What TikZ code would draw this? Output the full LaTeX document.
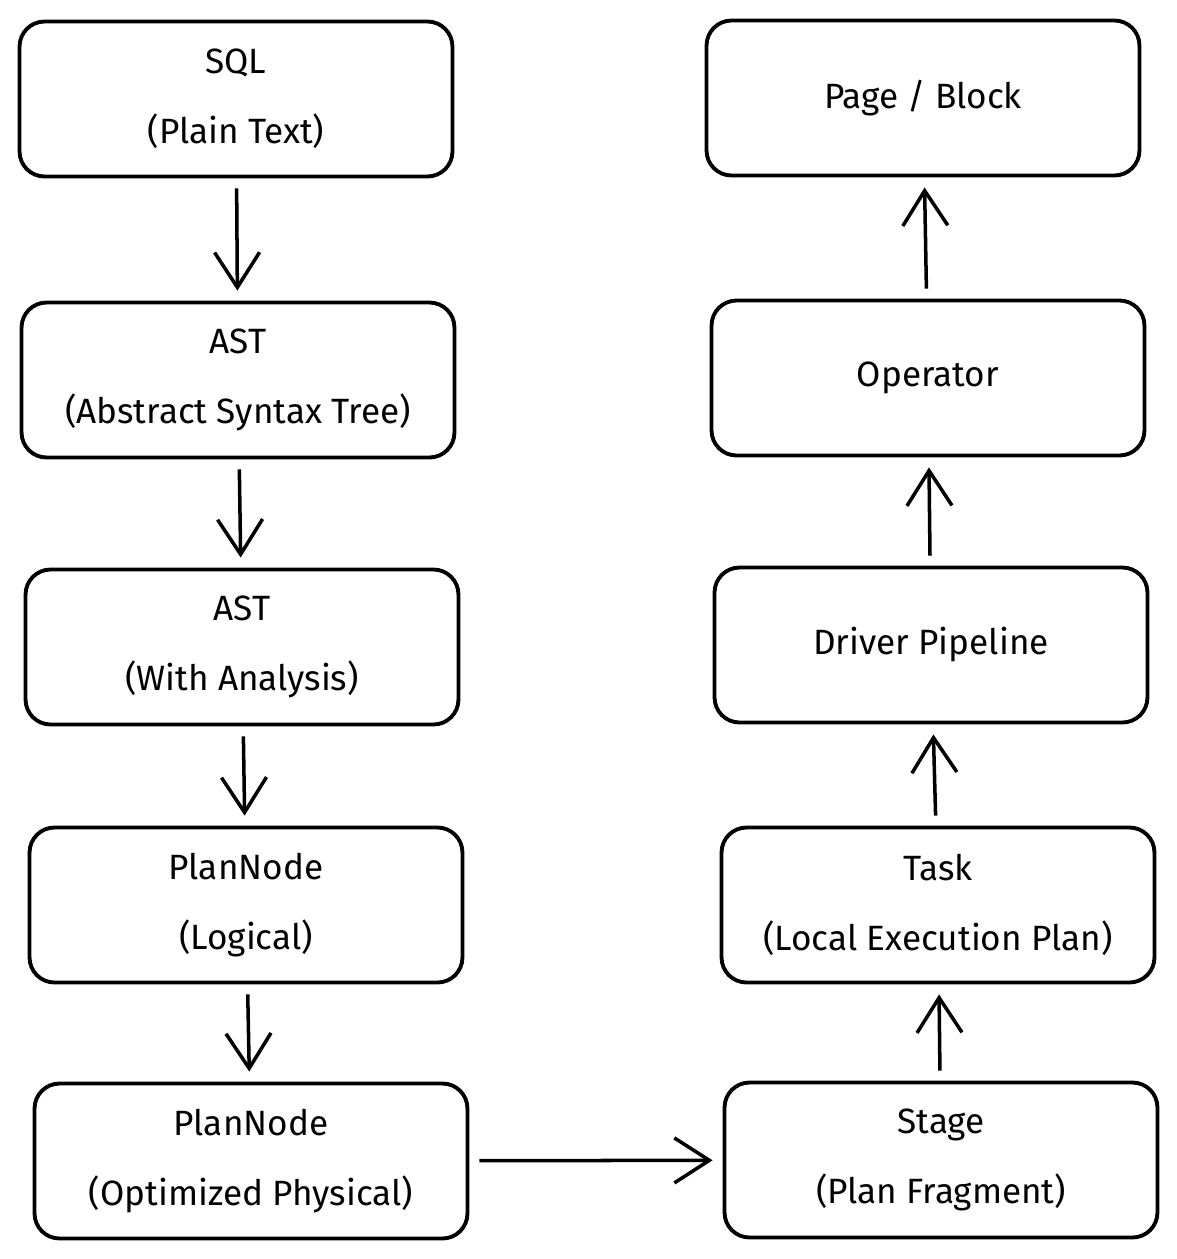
\documentclass[tikz,border=0pt]{standalone}
\usepackage{fontspec}
\setmainfont{Fira Sans}
\usetikzlibrary{arrows.meta, positioning}

\begin{document}
\begin{tikzpicture}[x=0.02cm, y=-0.02cm, stage/.style={rectangle, rounded corners=0.5cm, draw, line width=2.2pt, minimum width=8.66cm, minimum height=3.1cm, align=center, font=\fontsize{20}{40}\selectfont}, flow/.style={-{Straight Barb[length=0.7cm, width=0.9cm]}, line width=2pt, shorten <=0.2cm, shorten >=0.2cm}]

            \useasboundingbox (0,0) rectangle (1177,1259);
            \node[stage] (sql) at (236,99) {SQL\\(Plain Text)};
            \node[stage] (ast) at (238,380) {AST\\(Abstract Syntax Tree)};
            \node[stage] (ast2) at (242,647) {AST\\(With Analysis)};
            \node[stage] (plan) at (246,905) {PlanNode\\(Logical)};
            \node[stage] (plan2) at (251,1161) {PlanNode\\(Optimized Physical)};
            \node[stage] (st) at (941,1160) {Stage\\(Plan Fragment)};
            \node[stage] (task) at (938,905) {Task\\(Local Execution Plan)};
            \node[stage] (drv) at (931,645) {Driver Pipeline};
            \node[stage] (op) at (928,378) {Operator};
            \node[stage] (page) at (923,98) {Page / Block};

            \path[flow]
            (sql) edge (ast)
            (ast) edge (ast2)
            (ast2) edge (plan)
            (plan) edge (plan2)
            (plan2) edge (st)
            (st) edge (task)
            (task) edge (drv)
            (drv) edge (op)
            (op) edge (page)
            ;

        \end{tikzpicture}
\end{document}
